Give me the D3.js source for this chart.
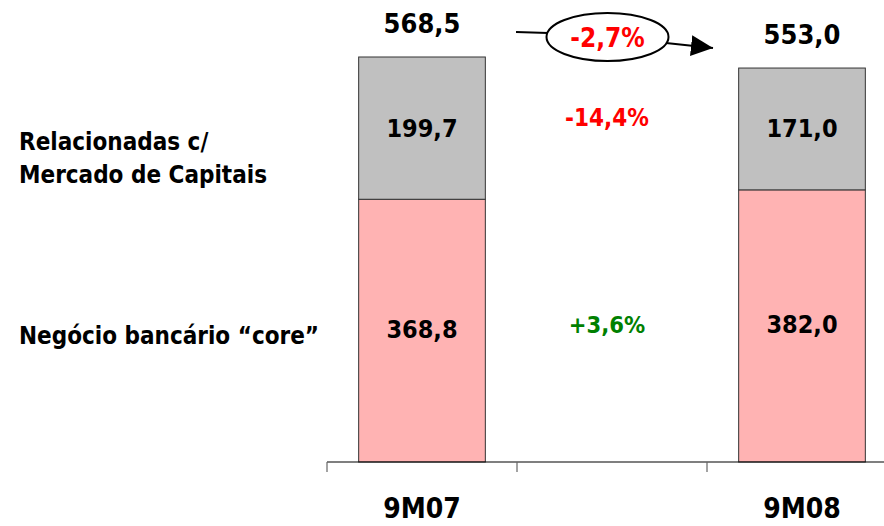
<!DOCTYPE html>
<html><head><meta charset="utf-8">
<script src="https://cdn.jsdelivr.net/npm/d3@7"></script>
<style>
body{margin:0;background:#fff;}
text{font-family:"DejaVu Sans Condensed","DejaVu Sans",sans-serif;font-weight:bold;}
</style></head>
<body><svg id="c" width="884" height="526"></svg>
<script>
const categories = ["9M07", "", "9M08"];
const core = [368.8, null, 382.0];
const capital = [199.7, null, 171.0];
const totals = [568.5, null, 553.0];
const coreLabels = ["368,8", "", "382,0"];
const capitalLabels = ["199,7", "", "171,0"];
const totalLabels = ["568,5", "", "553,0"];
const changeLabels = {total: "-2,7%", capital: "-14,4%", core: "+3,6%"};
const seriesNames = ["Relacionadas c/", "Mercado de Capitais", "Negócio bancário \u201ccore\u201d"];

const svg = d3.select("#c");
const x = d3.scaleBand().domain(categories.map((d,i)=>i)).range([327, 897]).paddingInner(0).paddingOuter(0);
const y = d3.scaleLinear().domain([0, 568.5]).range([462, 57]);
const bw = x.bandwidth()*2/3;
const cx = i => x(i) + x.bandwidth()/2;

const idx = [0, 2];
// bars
svg.selectAll("rect.core").data(idx).join("rect").attr("class","core")
  .attr("x", i => cx(i)-bw/2).attr("width", bw)
  .attr("y", i => y(core[i])).attr("height", i => y(0)-y(core[i]))
  .attr("fill", "#FFB3B3").attr("stroke", "#333").attr("stroke-width", 1);
svg.selectAll("rect.cap").data(idx).join("rect").attr("class","cap")
  .attr("x", i => cx(i)-bw/2).attr("width", bw)
  .attr("y", i => y(core[i]+capital[i])).attr("height", i => y(core[i])-y(core[i]+capital[i]))
  .attr("fill", "#C0C0C0").attr("stroke", "#333").attr("stroke-width", 1);

// axis
const g = svg.append("g").attr("transform", "translate(0,462)");
g.append("line").attr("x1", 327).attr("x2", 884).attr("y1", 0).attr("y2", 0).attr("stroke", "#000").attr("stroke-width", 1.2);
g.selectAll("line.t").data(categories.map((d,i)=>i)).join("line").attr("class","t")
  .attr("x1", i => x(i)).attr("x2", i => x(i)).attr("y1", 0).attr("y2", 10)
  .attr("stroke", "#666").attr("stroke-width", 1.2);
svg.selectAll("text.cat").data(idx).join("text").attr("class","cat")
  .attr("x", cx).attr("y", 518).attr("text-anchor", "middle")
  .attr("font-size", 28).attr("fill", "#000").text(i => categories[i]);

// value labels
const lab = (cls, xs, ys, txt, size, fill, base) => svg.selectAll("text."+cls).data(idx).join("text").attr("class",cls)
  .attr("x", xs).attr("y", ys).attr("text-anchor", "middle").attr("dominant-baseline", base)
  .attr("font-size", size).attr("fill", fill).text(txt);
lab("tot", cx, i => y(totals[i]) - 24.5, i => totalLabels[i], 27, "#000", "auto");
lab("cap", cx, i => (y(core[i]) + y(core[i]+capital[i]))/2, i => capitalLabels[i], 25, "#000", "central");
lab("cor", cx, i => (y(0) + y(core[i]))/2 - 1.5, i => coreLabels[i], 25, "#000", "central");

// change labels in middle slot
const mx = cx(1) - 5;
svg.append("text").attr("x", mx).attr("y", 118).attr("text-anchor","middle").attr("dominant-baseline","central")
  .attr("font-size", 24).attr("fill", "#FF0000").text(changeLabels.capital);
svg.append("text").attr("x", mx).attr("y", 325).attr("text-anchor","middle").attr("dominant-baseline","central")
  .attr("font-size", 23.5).attr("fill", "#008000").text(changeLabels.core);

// arrow with ellipse
svg.append("defs").append("marker").attr("id","ah").attr("viewBox","0 0 10 10").attr("refX",10).attr("refY",5)
  .attr("markerWidth",22).attr("markerHeight",21).attr("markerUnits","userSpaceOnUse").attr("orient","auto")
  .attr("preserveAspectRatio","none")
  .append("path").attr("d","M0,0L10,5L0,10Z").attr("fill","#000");
svg.append("line").attr("x1",516).attr("y1",32).attr("x2",548).attr("y2",33).attr("stroke","#000").attr("stroke-width",2);
svg.append("line").attr("x1",666).attr("y1",43).attr("x2",713).attr("y2",48).attr("stroke","#000").attr("stroke-width",2).attr("marker-end","url(#ah)");
svg.append("ellipse").attr("cx",607.5).attr("cy",37).attr("rx",61).attr("ry",24).attr("fill","#fff").attr("stroke","#000").attr("stroke-width",2);
svg.append("text").attr("x",607.5).attr("y",37.5).attr("text-anchor","middle").attr("dominant-baseline","central")
  .attr("font-size", 26).attr("fill", "#FF0000").text(changeLabels.total);

// series labels
svg.append("text").attr("x",19).attr("y",150).attr("font-size",24).attr("fill","#000").text(seriesNames[0]);
svg.append("text").attr("x",19).attr("y",183).attr("font-size",24).attr("fill","#000").text(seriesNames[1]);
svg.append("text").attr("x",19).attr("y",344).attr("font-size",24).attr("fill","#000").text(seriesNames[2]);
</script></body></html>
